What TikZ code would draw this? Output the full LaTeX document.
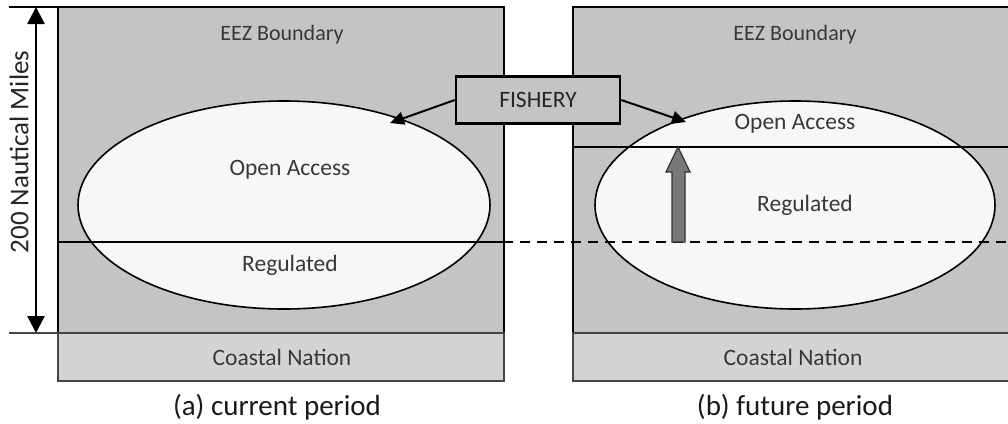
\documentclass[tikz,border=0pt]{standalone}
\usepackage{fontspec}
\setmainfont{Carlito}
\usetikzlibrary{shapes.geometric,arrows.meta}
\definecolor{seagray}{HTML}{C4C4C4}
\definecolor{coastgray}{HTML}{D4D4D4}
\definecolor{ovalfill}{HTML}{F7F7F7}
\definecolor{txtgray}{HTML}{383838}
\definecolor{bordergray}{HTML}{454545}
\definecolor{upgray}{HTML}{787878}
\tikzset{
  panel/.style={fill=seagray, draw=black, line width=1.6pt},
  coast/.style={fill=coastgray, draw=bordergray, line width=1.2pt},
  paneltxt/.style={font=\fontsize{23.5}{26}\selectfont, text=txtgray, inner sep=0pt},
  eeztxt/.style={font=\fontsize{22}{24}\selectfont, text=txtgray, inner sep=0pt},
  captxt/.style={font=\fontsize{29}{32}\selectfont, text=black!90, inner sep=0pt},
  oval/.style={ellipse, fill=ovalfill, draw=black, line width=1.6pt, inner sep=0pt},
  divider/.style={draw=black, line width=1.6pt},
  pointer/.style={draw=black, line width=2pt, -{Triangle[length=14pt,width=13pt]}},
  fisherybox/.style={fill=seagray, draw=black, line width=2.4pt, minimum width=164pt, minimum height=47pt, inner sep=0pt, font=\fontsize{23.5}{26}\selectfont, text=black!85},
}
\begin{document}
\begin{tikzpicture}[x=1pt,y=-1pt]
\useasboundingbox (0,0) rectangle (1008,423);
\clip (0,0) rectangle (1008,423);
% panels
\path[panel] (58,7) rectangle (504,381);
\path[panel] (573,7) rectangle (1020,381);
\path[coast] (58,333) rectangle (504,381);
\path[coast] (573,333) rectangle (1020,381);
% ellipses
\node[oval, minimum width=412pt, minimum height=208pt] (ovalA) at (284,205) {};
\node[oval, minimum width=400pt, minimum height=208pt] (ovalB) at (795,205) {};
% dividing lines
\coordinate (dA1) at (58,242);
\coordinate (dA2) at (513,242);
\coordinate (dB1) at (520,242);
\coordinate (dB2) at (1008,242);
\coordinate (lB1) at (573,147);
\coordinate (lB2) at (1008,147);
\draw[divider] (dA1) -- (dA2);
\draw[divider, dash pattern=on 10pt off 7pt] (dB1) -- (dB2);
\draw[divider] (lB1) -- (lB2);
% texts
\node[eeztxt] (eezA) at (282,35) {EEZ Boundary};
\node[eeztxt] (eezB) at (795,35) {EEZ Boundary};
\node[paneltxt] (openA) at (290,170) {Open Access};
\node[paneltxt] (regA) at (290,265) {Regulated};
\node[paneltxt] (openB) at (795,124) {Open Access};
\node[paneltxt] (regB) at (805,205) {Regulated};
\node[paneltxt] (coastA) at (282,357) {Coastal Nation};
\node[paneltxt] (coastB) at (793,357) {Coastal Nation};
\node[captxt] (capA) at (277,407) {(a) current period};
\node[captxt] (capB) at (795,407) {(b) future period};
% upward block arrow
\path[fill=upgray, draw=black!80, line width=1.2pt]
  (672,242) -- (672,172) -- (666,172) -- (678,147) -- (690,172) -- (685,172) -- (685,242) -- cycle;
% fishery
\node[fisherybox] (fish) at (538,100) {FISHERY};
\coordinate (tipA) at (390,123);
\coordinate (tipB) at (686,122);
\draw[pointer] (fish.west) -- (tipA);
\draw[pointer] (fish.east) -- (tipB);
% dimension
\coordinate (dimT) at (36,7);
\coordinate (dimB) at (36,333);
\coordinate (extT) at (9,7);
\coordinate (extB) at (9,333);
\draw[black, line width=1.2pt] (extT) -- (58,7);
\draw[bordergray, line width=1.2pt] (extB) -- (58,333);
\draw[black, line width=2.5pt, {Triangle[length=17pt,width=17pt]}-{Triangle[length=17pt,width=17pt]}] (dimT) -- (dimB);
\node[paneltxt, font=\fontsize{27}{30}\selectfont, rotate=90, text=black!85] (dimtxt) at (19,152) {200 Nautical Miles};
\end{tikzpicture}
\end{document}
